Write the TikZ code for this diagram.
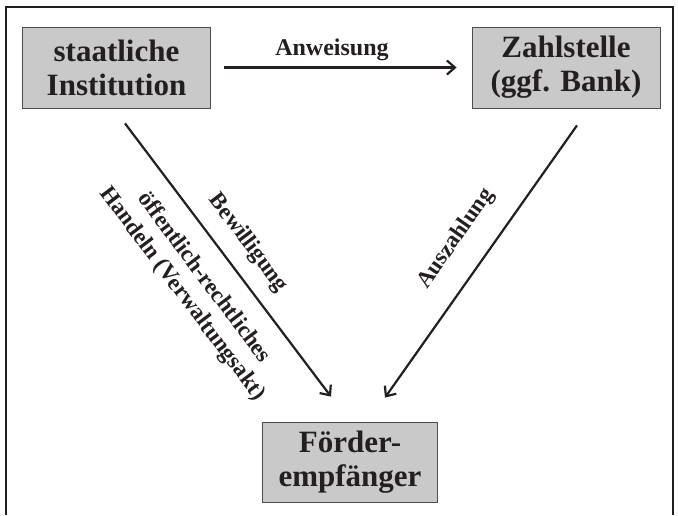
\documentclass[tikz,border=0pt]{standalone}
\usepackage{fontspec}
\setmainfont{Liberation Serif}
\usetikzlibrary{arrows.meta}
\definecolor{boxgray}{RGB}{201,201,201}
\definecolor{ink}{RGB}{35,31,32}
\begin{document}
\begin{tikzpicture}[x=1pt,y=-1pt,
  box/.style={draw=ink!80,line width=0.8pt,fill=boxgray,text=ink,
    font=\bfseries\fontsize{31}{34}\selectfont,align=center,inner sep=0pt},
  lab/.style={text=ink,font=\bfseries\fontsize{23}{27}\selectfont,align=center,inner sep=0pt},
  arr/.style={draw=ink,line width=2.2pt,-{Straight Barb[length=8pt,width=14pt,line width=2.2pt]}}]
\useasboundingbox (0,0) rectangle (678,515);
\draw[ink,line width=1.2pt] (6,515) -- (6,7) -- (673,7) -- (673,515);
\node[box,minimum width=188pt,minimum height=81pt] (A) at (116.5,67.5) {staatliche\\Institution};
\node[box,minimum width=188pt,minimum height=81pt] (Z) at (566,67.5) {Zahlstelle\\(ggf. Bank)};
\node[box,minimum width=175pt,minimum height=80pt] (F) at (350,462) {Förder-\\empfänger};
\draw[arr,line width=2.8pt] ([xshift=13pt]A.east) -- ([xshift=-15pt]Z.west);
\node[lab,font=\bfseries\fontsize{24}{27}\selectfont] (anw) at (332,50) {Anweisung};
\draw[arr] ([xshift=8.5pt,yshift=-15pt]A.south) -- ([xshift=-19pt,yshift=25pt]F.north);
\draw[arr] ([xshift=11pt,yshift=-17pt]Z.south) -- ([xshift=35pt,yshift=24pt]F.north);
\node[lab,rotate=-53.1] (bew) at (248,243) {Bewilligung};
\node[lab,rotate=-53.1] (oer) at (193,286) {öffentlich-rechtliches\\Handeln (Verwaltungsakt)};
\node[lab,rotate=54.9] (ausz) at (456,239) {Auszahlung};
\end{tikzpicture}
\end{document}
